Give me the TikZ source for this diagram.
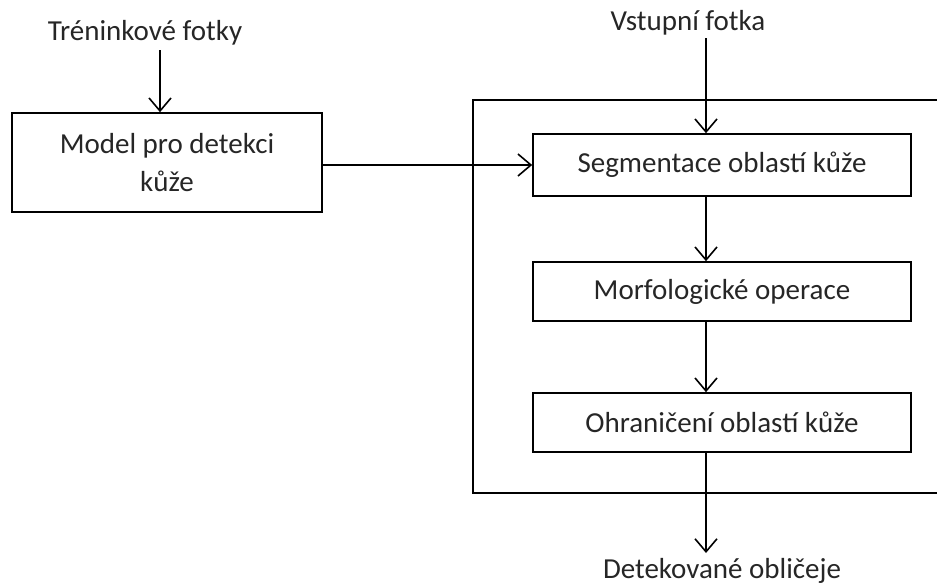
\documentclass[tikz,border=0pt]{standalone}
\usepackage{fontspec}
\setmainfont{Carlito}
\usetikzlibrary{arrows.meta}
\begin{document}
\begin{tikzpicture}[x=1pt,y=-1pt,
  line width=1.6pt,
  box/.style={draw, line width=1.6pt, minimum width=#1, inner sep=0pt, align=center, font=\fontsize{29}{38}\selectfont, text=black!85},
  lbl/.style={inner sep=0pt, font=\fontsize{29}{35}\selectfont, text=black!85},
  arr/.style={-{Straight Barb[length=13pt,width=22pt,line width=1.6pt]}}]
\useasboundingbox (0,0) rectangle (937,587);
\node[lbl] (train) at (145,33) {Tréninkové fotky};
\node[box=310pt, minimum height=99pt] (model) at (167,162.5) {Model pro detekci\\kůže};
\node[lbl] (input) at (688,23) {Vstupní fotka};
\node[box=378pt, minimum height=62pt] (seg) at (722,165) {Segmentace oblastí kůže};
\node[box=378pt, minimum height=59pt] (morf) at (722,291.5) {Morfologické operace};
\node[box=378pt, minimum height=59pt] (ohr) at (722,422.5) {Ohraničení oblastí kůže};
\node[lbl] (out) at (722,571) {Detekované obličeje};
\draw (937,100) -- (473,100) -- (473,493) -- (937,493);
\coordinate (tin) at (160,50);
\coordinate (iin) at (706,38);
\draw[arr] (tin) -- (tin |- model.north);
\draw[arr] (iin) -- (iin |- seg.north);
\draw[arr] (model.east |- seg.west) -- (seg.west);
\draw[arr] (seg.south -| iin) -- (morf.north -| iin);
\draw[arr] (morf.south -| iin) -- (ohr.north -| iin);
\coordinate (oend) at (706,553);
\draw[arr] (ohr.south -| iin) -- (oend);
\end{tikzpicture}
\end{document}
